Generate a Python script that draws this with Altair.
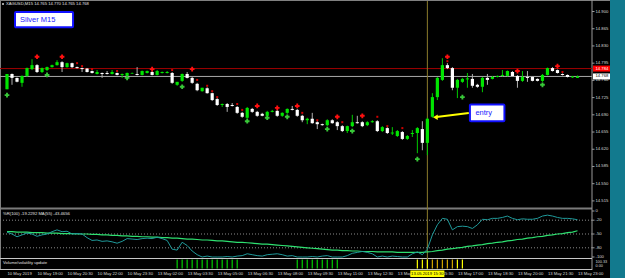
import altair as alt
import pandas as pd

# ---------------- price bars (XAGUSD, M15) ----------------
opens = [14.742, 14.773, 14.765, 14.755, 14.769, 14.783, 14.791, 14.777, 14.781, 14.787,
         14.791, 14.797, 14.787, 14.795, 14.787, 14.785, 14.784, 14.779, 14.773, 14.775,
         14.775, 14.773, 14.775, 14.771, 14.769, 14.774, 14.773, 14.771, 14.775, 14.777,
         14.771, 14.775, 14.775, 14.775, 14.751, 14.759, 14.773, 14.765, 14.753, 14.738,
         14.744, 14.734, 14.722, 14.710, 14.712, 14.710, 14.706, 14.694, 14.684, 14.702,
         14.696, 14.692, 14.688, 14.696, 14.698, 14.688, 14.694, 14.702, 14.700, 14.688,
         14.679, 14.682, 14.675, 14.671, 14.669, 14.679, 14.675, 14.667, 14.657, 14.667,
         14.675, 14.675, 14.669, 14.675, 14.677, 14.657, 14.663, 14.652, 14.647, 14.655,
         14.641, 14.651, 14.653, 14.661, 14.633, 14.686, 14.726, 14.761, 14.791, 14.785,
         14.745, 14.757, 14.762, 14.763, 14.751, 14.747, 14.765, 14.763, 14.767, 14.769,
         14.769, 14.777, 14.769, 14.759, 14.767, 14.767, 14.763, 14.759, 14.771, 14.785,
         14.781, 14.773, 14.771, 14.766, 14.765]
highs = [14.773, 14.774, 14.766, 14.770, 14.786, 14.803, 14.793, 14.786, 14.788, 14.792,
         14.801, 14.799, 14.796, 14.796, 14.788, 14.786, 14.785, 14.780, 14.781, 14.776,
         14.779, 14.781, 14.776, 14.774, 14.776, 14.776, 14.787, 14.780, 14.780, 14.779,
         14.781, 14.778, 14.779, 14.777, 14.757, 14.774, 14.777, 14.767, 14.755, 14.745,
         14.746, 14.735, 14.724, 14.713, 14.714, 14.714, 14.708, 14.696, 14.706, 14.704,
         14.698, 14.694, 14.698, 14.700, 14.700, 14.695, 14.703, 14.708, 14.702, 14.690,
         14.684, 14.694, 14.677, 14.672, 14.681, 14.681, 14.677, 14.669, 14.668, 14.690,
         14.688, 14.677, 14.677, 14.679, 14.679, 14.667, 14.665, 14.665, 14.659, 14.657,
         14.649, 14.659, 14.665, 14.677, 14.684, 14.734, 14.767, 14.805, 14.795, 14.787,
         14.763, 14.765, 14.775, 14.773, 14.753, 14.767, 14.773, 14.769, 14.770, 14.781,
         14.780, 14.779, 14.771, 14.779, 14.779, 14.768, 14.764, 14.773, 14.786, 14.787,
         14.782, 14.774, 14.772, 14.769, 14.770]
lows = [14.742, 14.751, 14.756, 14.747, 14.767, 14.781, 14.775, 14.775, 14.779, 14.786,
        14.790, 14.777, 14.786, 14.785, 14.784, 14.777, 14.776, 14.774, 14.772, 14.765,
        14.772, 14.772, 14.770, 14.765, 14.768, 14.773, 14.770, 14.770, 14.774, 14.770,
        14.770, 14.774, 14.774, 14.753, 14.749, 14.757, 14.764, 14.753, 14.738, 14.737,
        14.733, 14.718, 14.708, 14.706, 14.696, 14.707, 14.692, 14.684, 14.682, 14.694,
        14.686, 14.687, 14.686, 14.695, 14.686, 14.686, 14.692, 14.699, 14.686, 14.675,
        14.671, 14.672, 14.661, 14.668, 14.667, 14.672, 14.659, 14.655, 14.653, 14.665,
        14.672, 14.665, 14.667, 14.674, 14.655, 14.655, 14.651, 14.649, 14.645, 14.639,
        14.639, 14.645, 14.612, 14.618, 14.608, 14.684, 14.720, 14.759, 14.783, 14.740,
        14.724, 14.755, 14.745, 14.745, 14.745, 14.736, 14.751, 14.762, 14.766, 14.768,
        14.768, 14.768, 14.745, 14.757, 14.757, 14.758, 14.758, 14.757, 14.770, 14.778,
        14.774, 14.770, 14.766, 14.765, 14.765]
closes = [14.773, 14.765, 14.757, 14.769, 14.785, 14.791, 14.777, 14.785, 14.787, 14.791,
          14.797, 14.787, 14.795, 14.787, 14.785, 14.783, 14.777, 14.775, 14.777, 14.773,
          14.773, 14.777, 14.771, 14.773, 14.775, 14.775, 14.771, 14.779, 14.779, 14.771,
          14.779, 14.777, 14.777, 14.755, 14.757, 14.773, 14.765, 14.755, 14.740, 14.745,
          14.734, 14.720, 14.710, 14.712, 14.706, 14.708, 14.694, 14.686, 14.704, 14.696,
          14.688, 14.688, 14.696, 14.698, 14.688, 14.694, 14.702, 14.700, 14.688, 14.679,
          14.682, 14.673, 14.671, 14.669, 14.679, 14.673, 14.667, 14.657, 14.667, 14.675,
          14.673, 14.667, 14.675, 14.677, 14.657, 14.665, 14.653, 14.654, 14.657, 14.641,
          14.647, 14.653, 14.663, 14.633, 14.682, 14.726, 14.765, 14.791, 14.785, 14.745,
          14.761, 14.763, 14.764, 14.749, 14.747, 14.765, 14.761, 14.767, 14.769, 14.771,
          14.779, 14.769, 14.759, 14.767, 14.765, 14.759, 14.759, 14.771, 14.785, 14.779,
          14.775, 14.771, 14.767, 14.768, 14.768]
bar_no = [i for i in range(len(opens))]

# ---------------- Williams %R(100) and its MA(55) ----------------
wpr = [-46, -50, -56, -52, -48, -50, -55, -52, -50, -45,
       -41, -45, -44, -50, -49, -50, -58, -64, -63, -66,
       -65, -67, -70, -66, -60, -61, -62, -60, -59, -60,
       -57, -60, -64, -83, -85, -68, -75, -87, -95, -100,
       -98, -100, -100, -100, -99, -100, -98, -97, -93, -95,
       -97, -98, -95, -94, -93, -95, -98, -97, -100, -100,
       -100, -99, -100, -98, -97, -100, -100, -100, -97, -92,
       -90, -88, -90, -93, -100, -98, -100, -98, -99, -100,
       -100, -93, -89, -95, -83, -52, -30, -16, -18, -41,
       -34, -33, -34, -38, -30, -18, -19, -16, -16, -14,
       -11, -16, -19, -17, -18, -18, -16, -11, -9, -11,
       -14, -16, -16, -17, -19]
wpr_ma = [-45, -45, -46, -46, -46, -47, -47, -47, -48, -48,
          -48, -49, -49, -49, -50, -50, -50, -51, -51, -52,
          -52, -53, -53, -54, -54, -55, -55, -56, -56, -57,
          -57, -58, -58, -59, -59, -60, -61, -61, -62, -63,
          -63, -64, -65, -65, -66, -67, -68, -68, -69, -70,
          -71, -72, -72, -73, -74, -75, -76, -77, -78, -79,
          -80, -81, -82, -83, -84, -85, -85, -86, -86, -87,
          -87, -88, -88, -88, -89, -89, -89, -89, -90, -90,
          -90, -90, -90, -90, -89, -88, -86, -85, -83, -82,
          -80, -79, -77, -76, -74, -73, -71, -70, -68, -67,
          -65, -64, -62, -61, -59, -58, -56, -55, -53, -52,
          -50, -49, -47, -46, -43]

# ---------------- signal markers ----------------
sell_bars = [6, 11, 29, 37, 50, 54, 58, 66, 71, 88, 102, 110]
sell_prices = [14.808, 14.808, 14.783, 14.783, 14.708, 14.704, 14.708, 14.686, 14.688, 14.808, 14.779, 14.789]
dot_bars = [14, 15, 17, 22, 33, 38, 40, 41, 42, 46, 47, 59, 62, 67, 74, 76, 79, 88, 111]
dot_prices = [14.795, 14.789, 14.783, 14.779, 14.781, 14.761, 14.749, 14.738, 14.726, 14.712,
              14.700, 14.694, 14.679, 14.675, 14.686, 14.667, 14.663, 14.799, 14.777]
buy_bars = [0, 8, 24, 35, 48, 52, 56, 64, 69, 82, 91, 107]
buy_prices = [14.730, 14.771, 14.765, 14.747, 14.677, 14.684, 14.686, 14.661, 14.657, 14.600, 14.726, 14.751]

# ---------------- Volume/volatility update histogram ----------------
vol_bars = [34, 35, 36, 37, 38, 39, 40, 41, 42, 43, 44, 45, 46,
            58, 59, 60, 61, 62, 63, 64, 65, 66,
            82, 83, 84, 85, 86, 87, 88, 89, 90, 91]
vol_kind = ["g"] * 22 + ["y", "y", "y", "o", "o", "o", "o", "o", "y", "y"]
vol_value = [1] * 32

# ---------------- axis labels ----------------
price_ticks = [14.900, 14.865, 14.830, 14.795, 14.760, 14.725, 14.690, 14.655, 14.620, 14.585, 14.550, 14.515]
wpr_ticks = [0, -20, -50, -80, -100]
wpr_levels = [-20, -50, -80]
time_bars = [0, 6, 12, 18, 24, 30, 36, 42, 48, 54, 60, 66, 72, 78, 84, 90, 96, 102, 108, 114]
time_labels = ["10 May 2019", "10 May 19:00", "10 May 20:30", "10 May 22:00", "10 May 23:30",
               "13 May 02:00", "13 May 03:30", "13 May 05:00", "13 May 06:30", "13 May 08:00",
               "13 May 09:30", "13 May 11:00", "13 May 12:30", "13 May 14:00", "13 May 15:30",
               "13 May 17:00", "13 May 18:30", "13 May 20:00", "13 May 21:30", "13 May 23:00"]
sell_line = 14.784
bid_line = 14.768
cross_bar = 84
cross_label = "13.05.2019 15:30"

FONT = "Liberation Sans"
X_SCALE = alt.Scale(domain=[0, 115.9], range=[2, 592], nice=False, zero=False)
P_SCALE = dict(domain=[14.5, 14.9], range=[208.3, 11.5], nice=False, zero=False)
W_SCALE = dict(domain=[-100, 0], range=[257, 211], nice=False, zero=False)


def X(f="i"):
    return alt.X(f + ":Q", scale=X_SCALE, axis=None)


def YP(f):
    return alt.Y(f + ":Q", scale=alt.Scale(**P_SCALE), axis=None)


def YW(f):
    return alt.Y(f + ":Q", scale=alt.Scale(**W_SCALE), axis=None)


one = pd.DataFrame({"k": [0]})

candles = pd.DataFrame({"i": bar_no, "o": opens, "h": highs, "l": lows, "c": closes})
candles["up"] = candles["c"] >= candles["o"]
up = candles[candles["up"]]
dn = candles[~candles["up"]]

ind = pd.DataFrame({"i": bar_no, "wpr": wpr, "ma": wpr_ma})
sells = pd.DataFrame({"i": sell_bars, "p": sell_prices})
dots = pd.DataFrame({"i": dot_bars, "p": dot_prices})
buys = pd.DataFrame({"i": buy_bars, "p": buy_prices})
vol = pd.DataFrame({"i": vol_bars, "k": vol_kind, "v": vol_value})
ptick = pd.DataFrame({"p": price_ticks, "t": [f"{v:.3f}" for v in price_ticks]})
wtick = pd.DataFrame({"w": wpr_ticks, "t": [str(v) for v in wpr_ticks]})
wlev = pd.DataFrame({"w": wpr_levels})
tlab = pd.DataFrame({"i": time_bars, "t": time_labels})

layers = []

# teal desktop strip on the right
layers.append(alt.Chart(one).mark_rect(color="#127a8e").encode(
    x=alt.value(610), x2=alt.value(625), y=alt.value(0), y2=alt.value(278)))

# frame lines
frame = pd.DataFrame({
    "x1": [0, 0, 0.5, 592, 0, 0],
    "x2": [610, 592, 0.5, 592, 592, 592],
    "y1": [0.5, 208.5, 0, 0, 258.5, 269.5],
    "y2": [0.5, 208.5, 269, 270, 258.5, 269.5],
    "w": [1, 2, 1, 1, 1, 1],
    "c": ["#808080", "#7a7a7a", "#808080", "#9a9a9a", "#c8c8c8", "#c0c0c0"],
})
for _, r in frame.iterrows():
    layers.append(alt.Chart(one).mark_rule(color=r["c"], strokeWidth=float(r["w"])).encode(
        x=alt.value(float(r["x1"])), x2=alt.value(float(r["x2"])),
        y=alt.value(float(r["y1"])), y2=alt.value(float(r["y2"]))))

# indicator dotted levels
layers.append(alt.Chart(wlev).mark_rule(color="#8a8a8a", strokeDash=[1, 2], strokeWidth=1).encode(
    x=alt.value(0), x2=alt.value(592), y=YW("w")))

# horizontal sell line and bid line
layers.append(alt.Chart(pd.DataFrame({"p": [sell_line]})).mark_rule(color="#a00000", strokeWidth=1).encode(
    x=alt.value(0), x2=alt.value(592), y=YP("p")))
layers.append(alt.Chart(pd.DataFrame({"p": [bid_line]})).mark_rule(color="#a8a8a8", strokeWidth=1).encode(
    x=alt.value(0), x2=alt.value(592), y=YP("p")))

# crosshair
layers.append(alt.Chart(pd.DataFrame({"i": [cross_bar]})).mark_rule(color="#8c7b2c", strokeWidth=1).encode(
    x=X(), y=alt.value(1), y2=alt.value(269)))

# candles
layers.append(alt.Chart(dn).mark_rule(color="#b0b0b0", strokeWidth=1).encode(x=X(), y=YP("h"), y2=alt.Y2("l")))
layers.append(alt.Chart(up).mark_rule(color="#00cc00", strokeWidth=1).encode(x=X(), y=YP("h"), y2=alt.Y2("l")))
layers.append(alt.Chart(dn).mark_bar(color="#ffffff", size=3.2).encode(x=X(), y=YP("o"), y2=alt.Y2("c")))
layers.append(alt.Chart(up).mark_bar(color="#00e600", size=3.2).encode(x=X(), y=YP("o"), y2=alt.Y2("c")))

# signals
layers.append(alt.Chart(sells).mark_point(shape="cross", filled=True, color="#ff1010", size=22, opacity=1).encode(
    x=X(), y=YP("p")))
layers.append(alt.Chart(dots).mark_square(color="#d00000", size=4, opacity=1).encode(x=X(), y=YP("p")))
layers.append(alt.Chart(buys).mark_point(shape="cross", filled=True, color="#38c838", size=22, opacity=1).encode(
    x=X(), y=YP("p")))

# indicator lines
layers.append(alt.Chart(ind).mark_line(color="#2ee070", strokeWidth=1.2).encode(x=X(), y=YW("ma")))
layers.append(alt.Chart(ind).mark_line(color="#1f9a9a", strokeWidth=1).encode(x=X(), y=YW("wpr")))

# volume histogram
layers.append(alt.Chart(vol).mark_rule(strokeWidth=1.2).encode(
    x=X(), y=alt.Y("v:Q", scale=alt.Scale(domain=[0, 1], range=[268.5, 259.5], nice=False, zero=False), axis=None),
    y2=alt.datum(0),
    color=alt.Color("k:N", scale=alt.Scale(domain=["g", "y", "o"], range=["#00d000", "#ffff00", "#d4a800"]), legend=None)))

# price axis ticks and labels
layers.append(alt.Chart(ptick).mark_rule(color="#9a9a9a").encode(x=alt.value(592), x2=alt.value(594.5), y=YP("p")))
layers.append(alt.Chart(ptick).mark_text(align="left", baseline="middle", font=FONT, fontSize=4.2, color="#d8d8d8").encode(
    x=alt.value(595.5), y=YP("p"), text="t:N"))

# price label boxes
layers.append(alt.Chart(pd.DataFrame({"p": [sell_line], "t": [f"{sell_line:.3f}"]})).mark_tick(
    orient="horizontal", size=17, thickness=6, color="#ff0000", opacity=1).encode(x=alt.value(601.5), y=YP("p")))
layers.append(alt.Chart(pd.DataFrame({"p": [sell_line], "t": [f"{sell_line:.3f}"]})).mark_text(
    align="left", baseline="middle", font=FONT, fontSize=4.2, color="#ffffff").encode(x=alt.value(595.5), y=YP("p"), text="t:N"))
layers.append(alt.Chart(pd.DataFrame({"p": [bid_line], "t": [f"{bid_line:.3f}"]})).mark_tick(
    orient="horizontal", size=17, thickness=6, color="#ffffff", opacity=1).encode(x=alt.value(601.5), y=YP("p")))
layers.append(alt.Chart(pd.DataFrame({"p": [bid_line], "t": [f"{bid_line:.3f}"]})).mark_text(
    align="left", baseline="middle", font=FONT, fontSize=4.2, color="#000000").encode(x=alt.value(595.5), y=YP("p"), text="t:N"))

# indicator axis labels
layers.append(alt.Chart(wtick).mark_rule(color="#9a9a9a").encode(x=alt.value(592), x2=alt.value(594.5), y=YW("w")))
layers.append(alt.Chart(wtick).mark_text(align="left", baseline="middle", font=FONT, fontSize=4.2, color="#d8d8d8").encode(
    x=alt.value(595.5), y=YW("w"), text="t:N"))

# time axis labels
layers.append(alt.Chart(tlab).mark_text(align="left", baseline="middle", font=FONT, fontSize=4.2, color="#d8d8d8", dx=0.5).encode(
    x=X(), y=alt.value(273.8), text="t:N"))
layers.append(alt.Chart(pd.DataFrame({"i": [cross_bar - 3.4], "i2": [cross_bar + 3.4]})).mark_rect(color="#ffff00").encode(
    x=X(), x2=alt.X2("i2"), y=alt.value(270.5), y2=alt.value(277)))
layers.append(alt.Chart(pd.DataFrame({"i": [cross_bar], "t": [cross_label]})).mark_text(
    align="center", baseline="middle", font=FONT, fontSize=4.2, color="#000000").encode(x=X(), y=alt.value(273.8), text="t:N"))

# panel captions
layers.append(alt.Chart(one).mark_text(align="left", baseline="middle", font=FONT, fontSize=4.2, color="#e0e0e0").encode(
    x=alt.value(6), y=alt.value(4), text=alt.value("XAGUSD,M15  14.765 14.770 14.765 14.768")))
layers.append(alt.Chart(one).mark_square(color="#e0e0e0", size=4).encode(x=alt.value(3), y=alt.value(4)))
layers.append(alt.Chart(one).mark_text(align="left", baseline="middle", font=FONT, fontSize=4.2, color="#e0e0e0").encode(
    x=alt.value(3), y=alt.value(213.5), text=alt.value("%R(100) -19.2292  MA(55) -43.4656")))
layers.append(alt.Chart(one).mark_text(align="left", baseline="middle", font=FONT, fontSize=4.2, color="#e0e0e0").encode(
    x=alt.value(3), y=alt.value(263), text=alt.value("Volume/volatility update")))
layers.append(alt.Chart(one).mark_text(align="left", baseline="middle", font=FONT, fontSize=3.8, color="#d8d8d8").encode(
    x=alt.value(595.5), y=alt.value(262), text=alt.value("100.33")))
layers.append(alt.Chart(one).mark_text(align="left", baseline="middle", font=FONT, fontSize=3.8, color="#d8d8d8").encode(
    x=alt.value(595.5), y=alt.value(266), text=alt.value("0.00")))

# "Silver M15" label box
silver = pd.DataFrame({"i": [1.6], "i2": [13.2], "p": [14.899], "p2": [14.868], "t": ["Silver M15"], "tp": [14.8835], "ti": [2.6]})
layers.append(alt.Chart(silver).mark_rect(fill="#ffffff", stroke="#1010ff", strokeWidth=2, cornerRadius=1).encode(
    x=X(), x2=alt.X2("i2"), y=YP("p"), y2=alt.Y2("p2")))
layers.append(alt.Chart(silver).mark_text(align="left", baseline="middle", font=FONT, fontSize=7.5, color="#1a1aff").encode(
    x=X("ti"), y=YP("tp"), text="t:N"))

# "entry" annotation
entry = pd.DataFrame({"i": [92.5], "i2": [99.4], "p": [14.711], "p2": [14.677], "t": ["entry"], "tp": [14.6945], "ti": [93.6]})
arrow = pd.DataFrame({"i": [92.3, 85.8], "p": [14.6935, 14.6855]})
head = pd.DataFrame({"i": [85.6], "p": [14.6852]})
layers.append(alt.Chart(arrow).mark_line(color="#ffff00", strokeWidth=2).encode(x=X(), y=YP("p")))
layers.append(alt.Chart(head).mark_point(shape="triangle-left", filled=True, color="#ffff00", size=30, opacity=1).encode(
    x=X(), y=YP("p")))
layers.append(alt.Chart(entry).mark_rect(fill="#ffffff", stroke="#1010ff", strokeWidth=2, cornerRadius=1).encode(
    x=X(), x2=alt.X2("i2"), y=YP("p"), y2=alt.Y2("p2")))
layers.append(alt.Chart(entry).mark_text(align="left", baseline="middle", font=FONT, fontSize=7.5, color="#1a1aff").encode(
    x=X("ti"), y=YP("tp"), text="t:N"))

chart = alt.layer(*layers).resolve_scale(y="independent", color="independent").properties(
    width=625, height=278,
    autosize=alt.AutoSizeParams(type="none"),
    padding={"left": 0, "top": 0, "right": 0, "bottom": 0},
    background="#000000",
).configure_view(stroke=None)

chart.save("out.html", embed_options={"renderer": "svg", "actions": False})
